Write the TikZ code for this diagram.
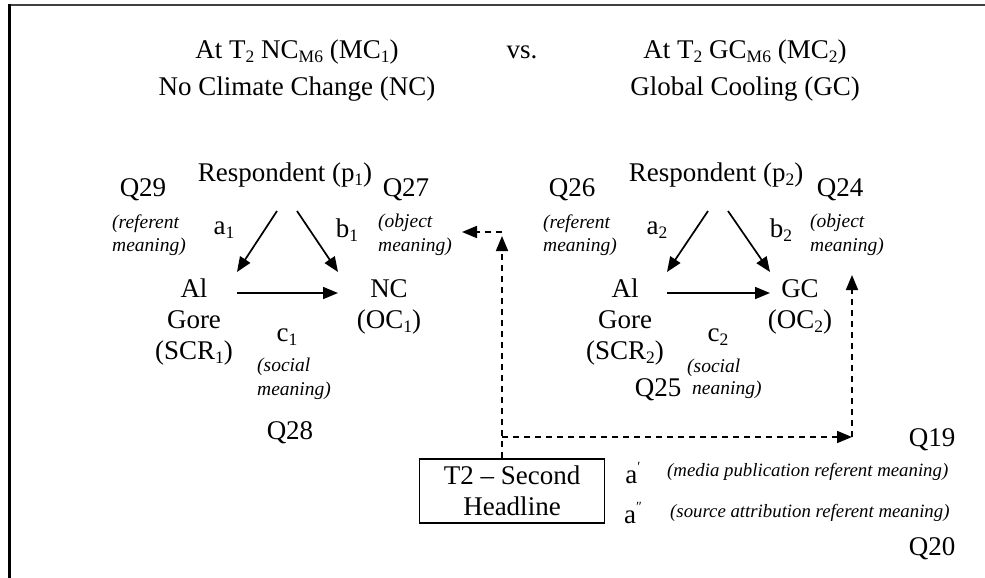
\documentclass[tikz,border=0pt]{standalone}
\usepackage{fontspec}
\setmainfont{Liberation Serif}
\usetikzlibrary{arrows.meta}
\newcommand\mainf{\fontsize{27}{31}\selectfont}
\newcommand\itf{\fontsize{19.5}{23.5}\selectfont\itshape}
\newcommand\itfs{\fontsize{18.8}{22}\selectfont\itshape}
\newcommand\sbs[1]{\raisebox{-0.3ex}{\fontsize{17.5}{17.5}\selectfont #1}}
\begin{document}
\begin{tikzpicture}[x=1pt,y=-1pt,
  txt/.style={inner sep=0pt,font=\mainf},
  itx/.style={inner sep=0pt,font=\itf,align=left,anchor=west},
  itxs/.style={inner sep=0pt,font=\itfs,anchor=west},
  solidarr/.style={line width=1.7pt,-{Triangle[length=15pt,width=12pt]}},
  dasharr/.style={line width=1.7pt,dash pattern=on 6pt off 5pt,-{Triangle[length=15pt,width=12pt]}},
  hbox/.style={draw,line width=1.7pt,inner sep=0pt,minimum width=185pt,minimum height=64pt,align=center,font=\mainf}]
\useasboundingbox (0,0) rectangle (985,578);
% frame
\draw[line width=2.5pt,black!75] (8,5) -- (985,5);
\draw[line width=3pt] (9,4) -- (9,578);
% headers
\node[txt] (hL1) at (297,52) {At T\sbs{2} NC\sbs{M6} (MC\sbs{1})};
\node[txt] (hL2) at (297,89) {No Climate Change (NC)};
\node[txt] (vs) at (522,52) {vs.};
\node[txt] (hR1) at (745,52) {At T\sbs{2} GC\sbs{M6} (MC\sbs{2})};
\node[txt] (hR2) at (745,89) {Global Cooling (GC)};
% left triangle
\node[txt] (respL) at (285,175) {Respondent (p\sbs{1})};
\node[txt] (q29) at (143,190) {Q29};
\node[txt] (q27) at (406,190) {Q27};
\node[itx] (refL) at (112,235) {(referent\\meaning)};
\node[itx] (objL) at (378,235) {(object\\meaning)};
\node[txt] (a1) at (224,230) {a\sbs{1}};
\node[txt] (b1) at (347,230) {b\sbs{1}};
\node[txt,align=center] (alL) at (194,322) {Al\\Gore\\(SCR\sbs{1})};
\node[txt,align=center] (ncL) at (389,307) {NC\\(OC\sbs{1})};
\node[txt] (c1) at (287,337) {c\sbs{1}};
\node[itx] (socL) at (257,379) {(social\\meaning)};
\node[txt] (q28) at (290,433) {Q28};
\coordinate (pL1) at (277,211); \coordinate (pL2) at (297,211);
\coordinate (sL) at (237,272); \coordinate (oL) at (338,272);
\coordinate (sL2) at (237,293); \coordinate (oL2) at (338,293);
\draw[solidarr] (pL1) -- (sL);
\draw[solidarr] (pL2) -- (oL);
\draw[solidarr] (sL2) -- (oL2);
% right triangle
\node[txt] (respR) at (716,175) {Respondent (p\sbs{2})};
\node[txt] (q26) at (572,190) {Q26};
\node[txt] (q24) at (840,190) {Q24};
\node[itx] (refR) at (543,235) {(referent\\meaning)};
\node[itx] (objR) at (810,235) {(object\\meaning)};
\node[txt] (a2) at (657,230) {a\sbs{2}};
\node[txt] (b2) at (781,230) {b\sbs{2}};
\node[txt,align=center] (alR) at (625,322) {Al\\Gore\\(SCR\sbs{2})};
\node[txt,align=center] (gcR) at (800,307) {GC\\(OC\sbs{2})};
\node[txt] (c2) at (718,337) {c\sbs{2}};
\node[itx] (socR1) at (687,368) {(social};
\node[itx] (socR2) at (692,390) {neaning)};
\node[txt] (q25) at (658,390) {Q25};
\coordinate (pR1) at (708,211); \coordinate (pR2) at (728,211);
\coordinate (sR) at (667,272); \coordinate (oR) at (770,272);
\coordinate (sR2) at (667,293); \coordinate (oR2) at (770,293);
\draw[solidarr] (pR1) -- (sR);
\draw[solidarr] (pR2) -- (oR);
\draw[solidarr] (sR2) -- (oR2);
% bottom
\node[hbox] (head) at (512,491) {T2 – Second\\Headline};
\node[txt] (q19) at (932,440) {Q19};
\node[txt] (q20) at (932,549) {Q20};
\node[txt] (ap) at (633,473) {a\raisebox{0.9ex}{\fontsize{14}{14}\selectfont ′}};
\node[txt] (app) at (633,513) {a\raisebox{0.9ex}{\fontsize{14}{14}\selectfont ″}};
\node[itxs] (mpr) at (667,472) {(media publication referent meaning)};
\node[itxs] (sar) at (670,513) {(source attribution referent meaning)};
% dashed connectors
\coordinate (up1) at (502,236);
\coordinate (j1) at (502,437);
\coordinate (j0) at (502,232);
\coordinate (tipL) at (462,232);
\coordinate (j2) at (852,437);
\coordinate (up2) at (852,275);
\draw[dasharr] (head.north -| j1) -- (up1);
\draw[dasharr] (j0) -- (tipL);
\draw[dasharr] (j1) -- (j2);
\draw[dasharr] (j2) -- (up2);
\end{tikzpicture}
\end{document}
